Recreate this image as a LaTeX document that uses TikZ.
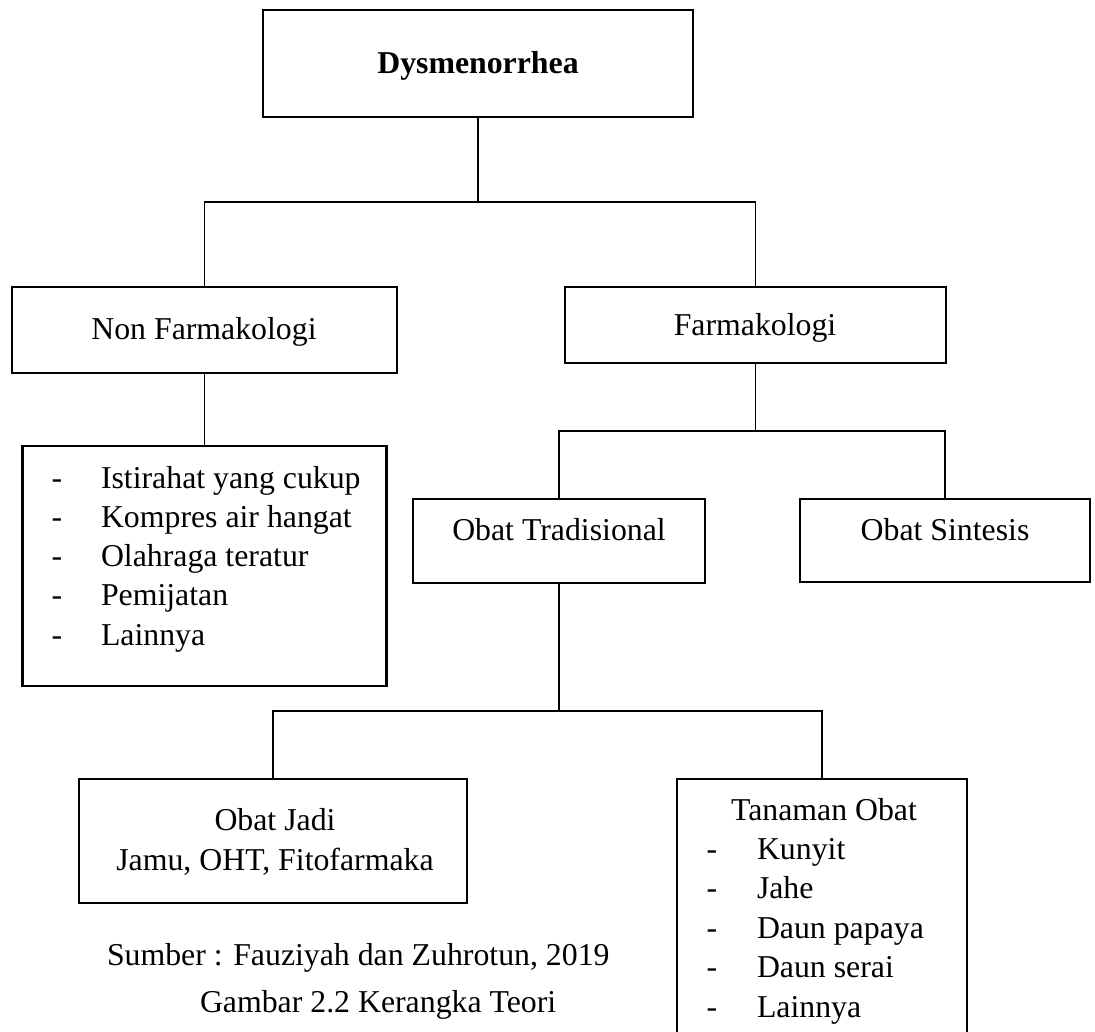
\documentclass[tikz,border=0pt]{standalone}
\usepackage{fontspec}
\setmainfont{Liberation Serif}
\begin{document}
\begin{tikzpicture}[x=1pt,y=-1pt,
  box/.style={draw, line width=2.2pt, inner sep=0pt, outer sep=0pt, rectangle},
  conn/.style={line width=1.6pt},
  txt/.style={anchor=base, inner sep=0pt, outer sep=0pt, font=\fontsize{31.8}{39.5}\selectfont},
  ltxt/.style={txt, anchor=base west},
  dashmark/.style={txt}]
\useasboundingbox[fill=white] (0,0) rectangle (1095,1032);
% boxes
\node[box, minimum width=430pt, minimum height=107pt] (dys)  at (478,63.5) {};
\node[box, minimum width=385pt, minimum height=86pt]  (nf)   at (204.5,330) {};
\node[box, minimum width=381pt, minimum height=76pt]  (f)    at (755.5,325) {};
\node[box, minimum width=364pt, minimum height=240pt] (list) at (204.5,566) {};
\node[box, minimum width=292pt, minimum height=84pt]  (ot)   at (559,541) {};
\node[box, minimum width=290pt, minimum height=83pt]  (os)   at (945,540.5) {};
\node[box, minimum width=388pt, minimum height=124pt] (oj)   at (273,841) {};
\node[box, minimum width=290pt, minimum height=266pt] (tan)  at (822,912) {};
% junctions
\coordinate (j1) at (478,202);
\coordinate (j2) at (755.5,431);
\coordinate (j3) at (559,711);
% connectors
\draw[conn] (dys.south) -- (j1);
\draw[conn] (nf.north) |- (j1) -| (f.north);
\draw[conn] (nf.south) -- (list.north);
\draw[conn] (f.south) -- (j2);
\draw[conn] (ot.north) |- (j2) -| (os.north);
\draw[conn] (ot.south) -- (j3);
\draw[conn] (oj.north) |- (j3) -| (tan.north);
% texts
\node[txt, font=\fontsize{31.8}{39.5}\selectfont\bfseries] (tdys) at (478,74) {Dysmenorrhea};
\node[txt] (tnf) at (204,339) {Non Farmakologi};
\node[txt] (tf)  at (755,335) {Farmakologi};
\node[txt] (tot) at (559,540) {Obat Tradisional};
\node[txt] (tos) at (945,540) {Obat Sintesis};
% left list
\foreach \t [count=\i from 0] in {Istirahat yang cukup, Kompres air hangat, Olahraga teratur, Pemijatan, Lainnya}{
  \node[dashmark] (ld\i) at (57,488+39.3*\i) {-};
  \node[ltxt] (lt\i) at (101,488+39.3*\i) {\t};
}
% obat jadi
\node[txt] (toj1) at (275,830) {Obat Jadi};
\node[txt] (toj2) at (275,870) {Jamu, OHT, Fitofarmaka};
% tanaman obat
\node[txt] (ttan) at (824,820) {Tanaman Obat};
\foreach \t [count=\i from 0] in {Kunyit, Jahe, Daun papaya, Daun serai, Lainnya}{
  \node[dashmark] (td\i) at (712,859+39.6*\i) {-};
  \node[ltxt] (tt\i) at (757,859+39.6*\i) {\t};
}
% captions
\node[ltxt] (src) at (107,965) {Sumber : Fauziyah dan Zuhrotun, 2019};
\node[ltxt] (cap) at (200,1012) {Gambar 2.2 Kerangka Teori};
\end{tikzpicture}
\end{document}
